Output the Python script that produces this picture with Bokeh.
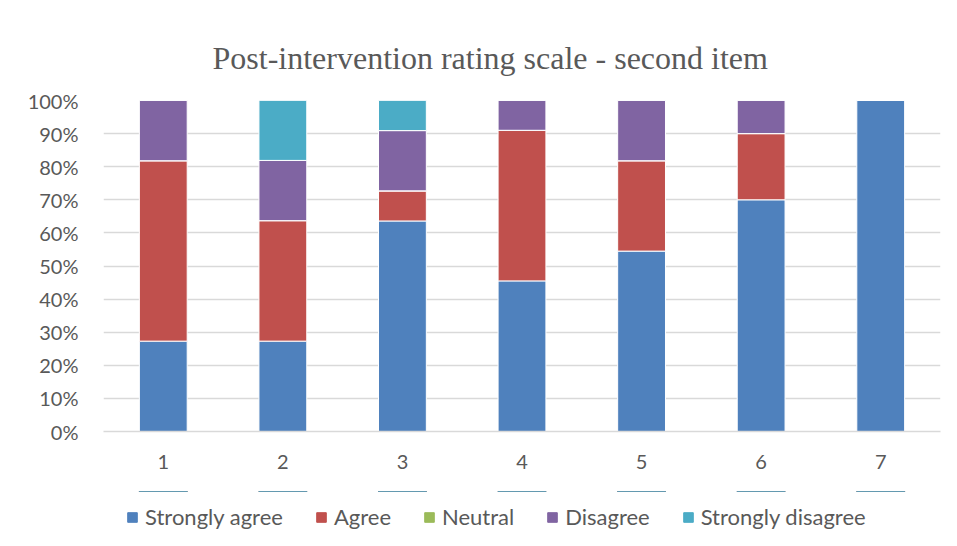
from bokeh.plotting import figure
from bokeh.models import ColumnDataSource, Legend, LegendItem, SingleIntervalTicker, PrintfTickFormatter, Range1d
from bokeh.layouts import column
from bokeh.embed import file_html
from bokeh.resources import INLINE

categories = ["1", "2", "3", "4", "5", "6", "7"]
series_names = ["Strongly agree", "Agree", "Neutral", "Disagree", "Strongly disagree"]
strongly_agree = [27.3, 27.3, 63.6, 45.5, 54.5, 70.0, 100.0]
agree = [54.5, 36.4, 9.1, 45.5, 27.3, 20.0, 0.0]
neutral = [0.0, 0.0, 0.0, 0.0, 0.0, 0.0, 0.0]
disagree = [18.2, 18.2, 18.2, 9.0, 18.2, 10.0, 0.0]
strongly_disagree = [0.0, 18.2, 9.1, 0.0, 0.0, 0.0, 0.0]
colors = ["#4F81BD", "#C0504D", "#9BBB59", "#8064A2", "#4BACC6"]

keys = ["sa", "ag", "ne", "di", "sd"]
source = ColumnDataSource(dict(x=categories, sa=strongly_agree, ag=agree, ne=neutral,
                               di=disagree, sd=strongly_disagree))

TXT = "#595959"
p = figure(x_range=categories, y_range=Range1d(0, 100), frame_width=837, frame_height=331,
           output_backend="svg", toolbar_location=None,
           title="Post-intervention rating scale - second item",
           min_border_left=103, min_border_right=10, min_border_top=100, min_border_bottom=60)

renderers = p.vbar_stack(keys, x="x", width=0.4, source=source, color=colors,
                         line_color="white", line_width=1)

p.title.text_font = "Liberation Serif"
p.title.text_font_size = "32px"
p.title.text_font_style = "normal"
p.title.text_color = TXT
p.title.align = "left"
p.title.standoff = 50
p.title.offset = 109

p.outline_line_color = None
p.xgrid.grid_line_color = None
p.ygrid.grid_line_color = "#D9D9D9"
p.ygrid.grid_line_width = 1.5

p.yaxis.ticker = SingleIntervalTicker(interval=10)
p.yaxis.formatter = PrintfTickFormatter(format="%d%%")
p.yaxis.axis_line_color = None
p.yaxis.major_tick_line_color = None
p.yaxis.minor_tick_line_color = None
p.yaxis.major_label_standoff = 19
for ax in (p.xaxis, p.yaxis):
    ax.major_label_text_font = "Lato"
    ax.major_label_text_font_size = "20px"
    ax.major_label_text_color = TXT
p.xaxis.axis_line_color = "#D9D9D9"
p.xaxis.axis_line_width = 1.5
p.xaxis.major_tick_line_color = None
p.xaxis.minor_tick_line_color = None
p.xaxis.major_label_standoff = 17

# legend strip below the chart (its bars sit outside its visible y range)
lf = figure(x_range=categories, y_range=Range1d(-2, -1), width=950, height=50,
            output_backend="svg", toolbar_location=None,
            min_border=0, x_axis_location=None, y_axis_location=None)
lf.outline_line_color = None
lf.grid.grid_line_color = None
leg_renderers = [lf.vbar(x="x", top=k, width=0.4, source=source, color=c)
                 for k, c in zip(keys, colors)]
items = [LegendItem(label=n, renderers=[r]) for n, r in zip(series_names, leg_renderers)]
legend = Legend(items=items, orientation="horizontal", location=(23, 11),
                label_text_font="Lato", label_text_font_size="22px", label_text_color=TXT,
                glyph_width=12, glyph_height=12, label_standoff=7, spacing=32,
                border_line_color=None, background_fill_alpha=0, margin=0, padding=5)
lf.add_layout(legend, "center")

layout = column(p, lf, spacing=0)
open("out.html", "w").write(file_html(layout, INLINE))
